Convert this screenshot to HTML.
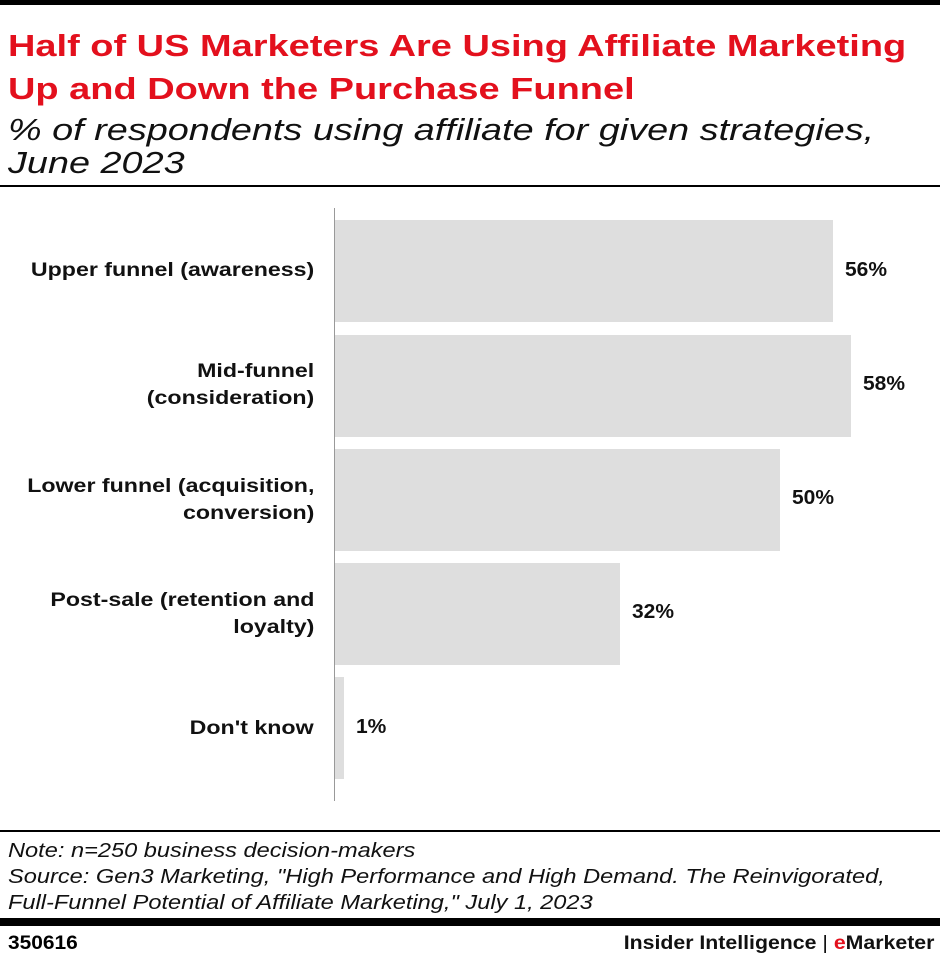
<!DOCTYPE html>
<html><head><style>
body{margin:0;width:940px;height:960px;background:#fff;position:relative;font-family:"Liberation Sans",sans-serif;overflow:hidden}
.a{position:absolute}
.t{color:#e3101d;font-weight:bold;font-size:31px;left:8px;line-height:43px;transform:scaleX(1.225);transform-origin:0 0;white-space:nowrap}
.s{font-style:italic;font-size:31px;left:8px;line-height:33px;color:#111;transform:scaleX(1.22);transform-origin:0 0;white-space:nowrap}
.bar{position:absolute;left:335px;background:#dedede;height:102px}
.lab{position:absolute;right:626px;text-align:right;font-weight:bold;font-size:19px;line-height:27px;color:#111;transform:scaleX(1.22);transform-origin:100% 0;white-space:nowrap}
.v{position:absolute;font-weight:bold;font-size:20px;color:#111;transform:scaleX(1.05);transform-origin:0 0}
.n{font-style:italic;font-size:20px;left:8px;line-height:26px;color:#111;transform:scaleX(1.18);transform-origin:0 0;white-space:nowrap}
</style></head><body>
<div class="a" style="left:0;top:0;width:940px;height:5px;background:#000"></div>
<div class="a t" style="top:24px">Half of US Marketers Are Using Affiliate Marketing<br>Up and Down the Purchase Funnel</div>
<div class="a s" style="top:113px">% of respondents using affiliate for given strategies,<br>June 2023</div>
<div class="a" style="left:0;top:185px;width:940px;height:2px;background:#000"></div>
<div class="a" style="left:334px;top:208px;width:1px;height:593px;background:#999"></div>
<div class="bar" style="top:220px;width:498px"></div>
<div class="bar" style="top:335px;width:516px"></div>
<div class="bar" style="top:449px;width:445px"></div>
<div class="bar" style="top:563px;width:285px"></div>
<div class="bar" style="top:677px;width:9px"></div>
<div class="lab" style="top:257px">Upper funnel (awareness)</div>
<div class="lab" style="top:358px">Mid-funnel<br>(consideration)</div>
<div class="lab" style="top:473px">Lower funnel (acquisition,<br>conversion)</div>
<div class="lab" style="top:587px">Post-sale (retention and<br>loyalty)</div>
<div class="lab" style="top:715px">Don't know</div>
<div class="v" style="left:845px;top:259px">56%</div>
<div class="v" style="left:863px;top:373px">58%</div>
<div class="v" style="left:792px;top:487px">50%</div>
<div class="v" style="left:632px;top:601px">32%</div>
<div class="v" style="left:356px;top:716px">1%</div>
<div class="a" style="left:0;top:830px;width:940px;height:2px;background:#000"></div>
<div class="a n" style="top:838px">Note: n=250 business decision-makers<br>Source: Gen3 Marketing, "High Performance and High Demand. The Reinvigorated,<br>Full-Funnel Potential of Affiliate Marketing," July 1, 2023</div>
<div class="a" style="left:0;top:918px;width:940px;height:8px;background:#000"></div>
<div class="a" style="left:8px;top:933px;font-weight:bold;font-size:19px;transform:scaleX(1.1);transform-origin:0 0">350616</div>
<div class="a" style="right:6px;top:933px;font-weight:bold;font-size:19px;color:#111;transform:scaleX(1.12);transform-origin:100% 0;white-space:nowrap">Insider Intelligence <span style="font-weight:normal">|</span> <span style="color:#e3101d">e</span>Marketer</div>
</body></html>
